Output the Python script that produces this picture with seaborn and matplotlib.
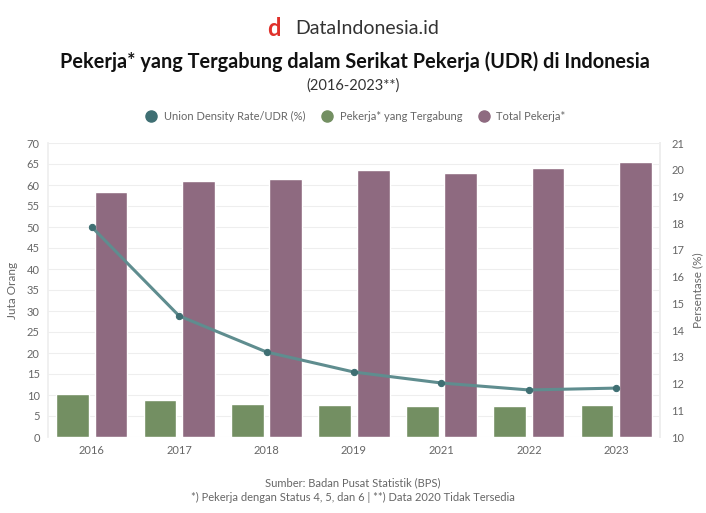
import matplotlib
matplotlib.use("Agg")
import matplotlib.pyplot as plt
import seaborn as sns
import pandas as pd
from matplotlib.lines import Line2D

years = ["2016", "2017", "2018", "2019", "2021", "2022", "2023"]
pekerja_tergabung = [10.2, 8.8, 7.9, 7.6, 7.4, 7.4, 7.6]
total_pekerja = [58.3, 61.0, 61.4, 63.6, 62.9, 64.0, 65.5]
udr = [17.86, 14.53, 13.18, 12.43, 12.02, 11.76, 11.83]

s_green = "Pekerja* yang Tergabung"
s_purple = "Total Pekerja*"
s_line = "Union Density Rate/UDR (%)"

c_green = "#738f62"
c_purple = "#8e6a80"
c_line = "#5f8d8f"
c_marker = "#3f6f73"
grey = "#666666"

sns.set_theme(style="white")
plt.rcParams["font.family"] = ["Lato", "DejaVu Sans"]

df_bar = pd.DataFrame({
    "Tahun": years * 2,
    "Nilai": pekerja_tergabung + total_pekerja,
    "Seri": [s_green] * len(years) + [s_purple] * len(years),
})
df_line = pd.DataFrame({"Tahun": years, "UDR": udr})

fig = plt.figure(figsize=(7.06, 5.13), dpi=100)
ax = fig.add_axes([48 / 706, 1 - 437 / 513, (660 - 48) / 706, (437 - 143) / 513])

sns.barplot(data=df_bar, x="Tahun", y="Nilai", hue="Seri", order=years,
            hue_order=[s_green, s_purple], palette=[c_green, c_purple],
            width=0.88, gap=0.15, ax=ax, legend=False, saturation=1)
ax.set_xlim(-0.5, 6.5)
ax.set_ylim(0, 70)
ax.set_yticks(range(0, 71, 5))
ax.grid(axis="y", color="#eeeeee", linewidth=0.8)
ax.set_axisbelow(True)
ax.set_xlabel("")
ax.set_ylabel("Juta Orang", color=grey, fontsize=8.5, labelpad=6)
ax.tick_params(axis="both", colors=grey, labelsize=8, length=0, pad=6)
for sp in ["top", "bottom"]:
    ax.spines[sp].set_visible(False)
for sp in ["left", "right"]:
    ax.spines[sp].set_color("#eeeeee")

ax2 = ax.twinx()
sns.lineplot(data=df_line, x="Tahun", y="UDR", ax=ax2, color=c_line,
             linewidth=2.2, marker="o", markersize=4.5, markerfacecolor=c_marker,
             markeredgecolor=c_marker, sort=False)
ax2.set_ylim(10, 21)
ax2.set_yticks(range(10, 22))
ax2.set_xlim(-0.5, 6.5)
ax2.set_ylabel("Persentase (%)", color=grey, fontsize=8.5, labelpad=6)
ax2.tick_params(axis="y", colors=grey, labelsize=8, length=0, pad=8)
for sp in ["top", "bottom", "left"]:
    ax2.spines[sp].set_visible(False)
ax2.spines["right"].set_color("#eeeeee")

# Header
fig.text(0.388, 1 - 28 / 513, "d", color="#e0312b", fontsize=17, fontweight="bold",
         ha="center", va="center")
fig.text(0.52, 1 - 28 / 513, "DataIndonesia.id", color="#333333", fontsize=14,
         ha="center", va="center")
fig.text(0.503, 1 - 62 / 513, "Pekerja* yang Tergabung dalam Serikat Pekerja (UDR) di Indonesia",
         color="#111111", fontsize=14.3, fontweight="bold", ha="center", va="center")
fig.text(0.5, 1 - 86 / 513, "(2016-2023**)", color="#333333", fontsize=10.5,
         ha="center", va="center")

handles = [
    Line2D([], [], marker="o", linestyle="", color=c_marker, markersize=8),
    Line2D([], [], marker="o", linestyle="", color=c_green, markersize=8),
    Line2D([], [], marker="o", linestyle="", color=c_purple, markersize=8),
]
fig.legend(handles, [s_line, s_green, s_purple], loc="center",
           bbox_to_anchor=(0.5, 1 - 116 / 513), ncol=3, frameon=False,
           fontsize=8, labelcolor=grey, handletextpad=0.1, columnspacing=1.0)

fig.text(0.5, 1 - 483 / 513, "Sumber: Badan Pusat Statistik (BPS)", color=grey,
         fontsize=8, ha="center", va="center")
fig.text(0.5, 1 - 497 / 513, "*) Pekerja dengan Status 4, 5, dan 6 | **) Data 2020 Tidak Tersedia",
         color=grey, fontsize=8, ha="center", va="center")

fig.savefig("out.png", dpi=100)
